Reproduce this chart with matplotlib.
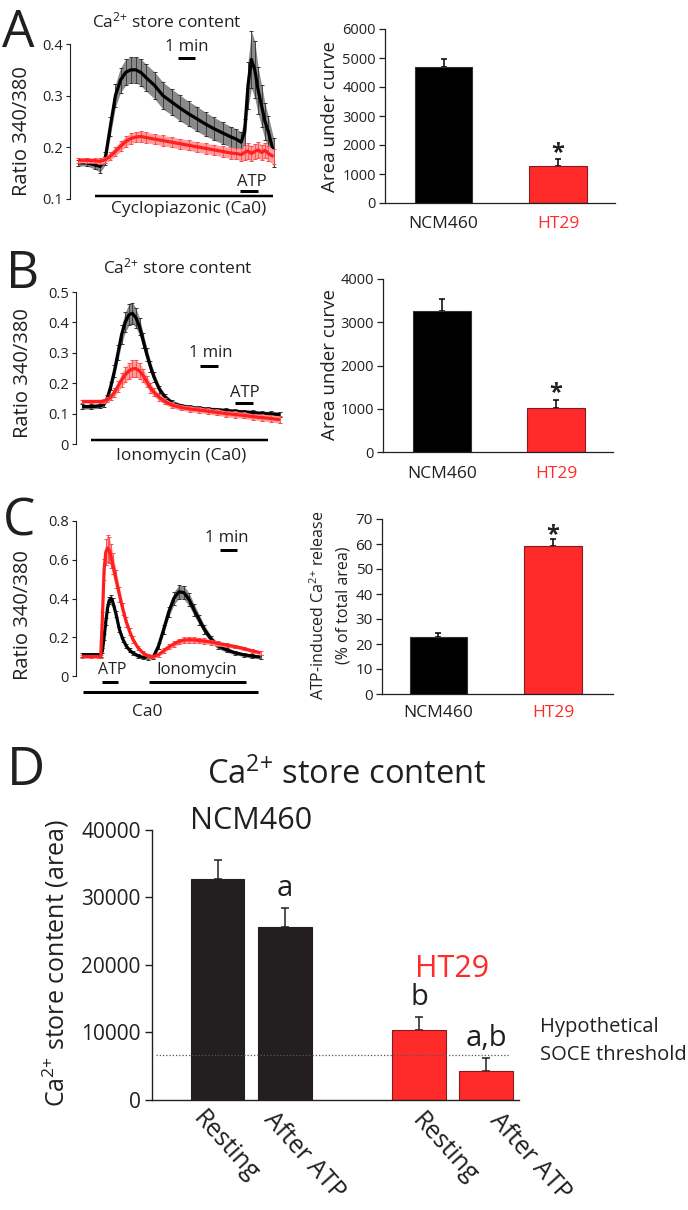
import numpy as np
import matplotlib
matplotlib.use("Agg")
import matplotlib.pyplot as plt
from matplotlib.lines import Line2D

plt.rcParams['font.family'] = ['Open Sans', 'DejaVu Sans']
plt.rcParams['mathtext.fontset'] = 'custom'
plt.rcParams['mathtext.rm'] = 'Open Sans'
plt.rcParams['mathtext.it'] = 'Open Sans:italic'
plt.rcParams['mathtext.bf'] = 'Open Sans:bold'

# ---------------- data ----------------
cells = ['NCM460', 'HT29']

# Panel A: cyclopiazonic acid traces (time in min)
A_time = [0, 0.5, 1.0, 1.3, 1.6, 1.9, 2.2, 2.5, 2.8, 3.1, 3.4, 3.7, 4.0, 4.5, 5.0, 5.5, 6.0,
          6.5, 7.0, 7.5, 8.0, 8.5, 9.0, 9.3, 9.6, 9.8, 10.0, 10.2, 10.4, 10.6, 10.8, 11.0, 11.2, 11.5]
A_ncm = [0.170, 0.170, 0.166, 0.163, 0.178, 0.240, 0.300, 0.330, 0.345, 0.350, 0.350, 0.345,
         0.335, 0.320, 0.300, 0.288, 0.276, 0.265, 0.255, 0.245, 0.236, 0.228, 0.220, 0.216,
         0.210, 0.230, 0.320, 0.370, 0.350, 0.310, 0.280, 0.250, 0.230, 0.190]
A_ncm_err = [0.006, 0.006, 0.008, 0.012, 0.012, 0.018, 0.022, 0.024, 0.025, 0.025, 0.025, 0.026,
             0.026, 0.026, 0.026, 0.025, 0.025, 0.024, 0.024, 0.023, 0.022, 0.021, 0.020, 0.020,
             0.020, 0.025, 0.045, 0.055, 0.055, 0.045, 0.040, 0.035, 0.030, 0.028]
A_ht = [0.175, 0.175, 0.174, 0.173, 0.176, 0.183, 0.192, 0.202, 0.211, 0.217, 0.220, 0.221,
        0.219, 0.216, 0.213, 0.210, 0.207, 0.204, 0.201, 0.198, 0.195, 0.192, 0.189, 0.188,
        0.186, 0.190, 0.193, 0.188, 0.192, 0.195, 0.190, 0.194, 0.188, 0.182]
A_ht_err = [0.005, 0.005, 0.005, 0.006, 0.006, 0.008, 0.009, 0.010, 0.010, 0.010, 0.010, 0.010,
            0.010, 0.010, 0.010, 0.010, 0.010, 0.010, 0.010, 0.010, 0.010, 0.010, 0.011, 0.011,
            0.012, 0.014, 0.015, 0.015, 0.015, 0.015, 0.015, 0.015, 0.015, 0.014]
A_auc = [4700, 1270]
A_auc_err = [270, 260]

# Panel B: ionomycin traces
B_time = [0, 0.5, 1.0, 1.2, 1.4, 1.6, 1.8, 2.0, 2.2, 2.4, 2.6, 2.8, 3.0, 3.2, 3.4, 3.6, 3.8,
          4.0, 4.3, 4.6, 5.0, 5.5, 6.0, 6.5, 7.0, 7.5, 8.0, 8.5, 9.0, 9.5, 10.0, 10.5, 11.0]
B_ncm = [0.123, 0.123, 0.125, 0.130, 0.150, 0.190, 0.240, 0.300, 0.360, 0.400, 0.425, 0.430,
         0.415, 0.385, 0.340, 0.295, 0.255, 0.220, 0.180, 0.155, 0.135, 0.125, 0.120, 0.117,
         0.114, 0.112, 0.110, 0.107, 0.105, 0.103, 0.100, 0.099, 0.097]
B_ncm_err = [0.008, 0.008, 0.008, 0.009, 0.010, 0.014, 0.020, 0.025, 0.030, 0.033, 0.035, 0.035,
             0.032, 0.028, 0.025, 0.022, 0.019, 0.016, 0.012, 0.010, 0.009, 0.008, 0.008, 0.008,
             0.008, 0.008, 0.008, 0.008, 0.008, 0.008, 0.008, 0.008, 0.008]
B_ht = [0.140, 0.140, 0.140, 0.141, 0.145, 0.155, 0.170, 0.190, 0.210, 0.228, 0.240, 0.247,
        0.248, 0.240, 0.225, 0.205, 0.185, 0.170, 0.153, 0.140, 0.128, 0.120, 0.115, 0.112,
        0.108, 0.104, 0.100, 0.097, 0.094, 0.090, 0.087, 0.084, 0.080]
B_ht_err = [0.006, 0.006, 0.006, 0.006, 0.008, 0.010, 0.014, 0.018, 0.022, 0.025, 0.027, 0.028,
            0.028, 0.026, 0.022, 0.019, 0.016, 0.013, 0.011, 0.010, 0.009, 0.009, 0.009, 0.009,
            0.009, 0.010, 0.010, 0.010, 0.010, 0.010, 0.011, 0.011, 0.012]
B_auc = [3270, 1015]
B_auc_err = [270, 190]

# Panel C: ATP then ionomycin traces
C_time = [0, 0.5, 1.0, 1.1, 1.2, 1.3, 1.4, 1.5, 1.6, 1.7, 1.8, 2.0, 2.2, 2.4, 2.6, 2.8, 3.0,
          3.3, 3.6, 3.9, 4.2, 4.5, 4.8, 5.1, 5.4, 5.7, 6.0, 6.3, 6.6, 6.9, 7.2, 7.6, 8.0, 8.5,
          9.0, 9.5, 10.0, 10.5]
C_ncm = [0.110, 0.110, 0.110, 0.110, 0.130, 0.200, 0.280, 0.350, 0.390, 0.400, 0.385, 0.320,
         0.240, 0.190, 0.155, 0.133, 0.118, 0.104, 0.097, 0.095, 0.100, 0.155, 0.240, 0.330,
         0.400, 0.435, 0.430, 0.395, 0.340, 0.290, 0.240, 0.190, 0.155, 0.135, 0.120, 0.110,
         0.103, 0.098]
C_ncm_err = [0.010, 0.010, 0.010, 0.010, 0.012, 0.016, 0.018, 0.020, 0.020, 0.020, 0.020, 0.018,
             0.015, 0.012, 0.010, 0.010, 0.010, 0.010, 0.010, 0.010, 0.010, 0.015, 0.022, 0.028,
             0.032, 0.035, 0.035, 0.033, 0.030, 0.026, 0.022, 0.018, 0.015, 0.012, 0.010, 0.010,
             0.010, 0.010]
C_ht = [0.100, 0.100, 0.100, 0.100, 0.300, 0.550, 0.640, 0.660, 0.650, 0.620, 0.580, 0.500,
        0.420, 0.345, 0.280, 0.230, 0.188, 0.145, 0.118, 0.103, 0.100, 0.110, 0.130, 0.150,
        0.165, 0.178, 0.185, 0.187, 0.186, 0.183, 0.180, 0.175, 0.168, 0.160, 0.152, 0.142,
        0.130, 0.120]
C_ht_err = [0.008, 0.008, 0.008, 0.008, 0.030, 0.055, 0.065, 0.070, 0.068, 0.060, 0.055, 0.045,
            0.038, 0.030, 0.025, 0.020, 0.016, 0.012, 0.010, 0.008, 0.008, 0.010, 0.012, 0.013,
            0.014, 0.015, 0.015, 0.015, 0.015, 0.015, 0.014, 0.013, 0.012, 0.011, 0.010, 0.010,
            0.010, 0.010]
C_pct = [22.8, 59.2]
C_pct_err = [1.6, 3.0]

# Panel D
D_labels = ['Resting', 'After ATP', 'Resting', 'After ATP']
D_pos = [0, 1, 3, 4]
D_vals = [32800, 25600, 10300, 4200]
D_err = [2800, 2800, 1900, 1900]
D_sig = ['', 'a', 'b', 'a,b']
D_threshold = 6600

# ---------------- styling ----------------
W, H = 688, 1210
TXT = '#231f20'
RED = '#ff2a2a'
RED_EDGE = '#8a1a1a'
BLK = '#000000'
CA = r'Ca$^{2{+}}$'

fig = plt.figure(figsize=(W / 100, H / 100), dpi=100)
fig.patch.set_facecolor('white')


def ax_px(x0, y0, x1, y1):
    a = fig.add_axes([x0 / W, 1 - y1 / H, (x1 - x0) / W, (y1 - y0) / H])
    a.patch.set_alpha(0)
    return a


def ftext(x, y, s, size, ha='left', va='baseline', color=TXT, **kw):
    fig.text(x / W, 1 - y / H, s, fontsize=size, ha=ha, va=va, color=color, **kw)


def fbar(x0, x1, y, lw_px):
    fig.add_artist(Line2D([x0 / W, x1 / W], [1 - y / H, 1 - y / H], color='k',
                          lw=lw_px * 0.72, solid_capstyle='butt'))


def draw_trace(ax, t, y, e, line_c, band_c, err_c, z):
    t = np.asarray(t, float)
    y = np.asarray(y, float)
    e = np.asarray(e, float)
    ax.fill_between(t, y - e, y + e, color=band_c, lw=0, zorder=z)
    ax.errorbar(t, y, yerr=e, fmt='none', ecolor=err_c, elinewidth=0.6,
                capsize=1.2, capthick=0.7, zorder=z + 0.1)
    ax.plot(t, y, color=line_c, lw=2.3, zorder=z + 0.2, solid_capstyle='butt')


def style_trace(ax, xlim, ylim, ticks, labels):
    ax.set_xlim(*xlim)
    ax.set_ylim(*ylim)
    for s in ('top', 'right', 'bottom'):
        ax.spines[s].set_visible(False)
    ax.spines['left'].set_bounds(ticks[0], ticks[-1])
    ax.spines['left'].set_linewidth(0.8)
    ax.spines['left'].set_color(TXT)
    ax.set_xticks([])
    ax.set_yticks(ticks)
    ax.set_yticklabels(labels)
    ax.tick_params(axis='y', length=3, width=0.8, pad=2, labelsize=10.5,
                   colors=TXT)


def style_bar(ax, xlim, ylim, ticks, fs, tl=4, pad=2.5, lw=0.9):
    ax.set_xlim(*xlim)
    ax.set_ylim(*ylim)
    for s in ('top', 'right'):
        ax.spines[s].set_visible(False)
    for s in ('left', 'bottom'):
        ax.spines[s].set_linewidth(lw)
        ax.spines[s].set_color(TXT)
    ax.set_xticks([])
    ax.set_yticks(ticks)
    ax.set_yticklabels([str(int(v)) for v in ticks])
    ax.tick_params(axis='y', length=tl, width=lw, pad=pad, labelsize=fs, colors=TXT)


def small_bars(ax, vals, errs, width):
    pos = np.arange(len(vals))
    ax.bar(pos, vals, width, color=[BLK, RED], edgecolor=['#333333', RED_EDGE],
           linewidth=0.8, zorder=2)
    ax.errorbar(pos, vals, yerr=[np.zeros(len(vals)), errs], fmt='none', ecolor='k',
                elinewidth=1.1, capsize=2, capthick=1.1, zorder=1)
    return pos


BLACK_STYLE = dict(line_c='#000000', band_c='#8a8a8a', err_c='#333333')
RED_STYLE = dict(line_c='#ff1f1f', band_c='#ff9c9c', err_c='#ff4a4a')

# ================= Panel A =================
ftext(2, 47, 'A', 37)
axA = ax_px(70, 28.5, 285, 199)
draw_trace(axA, A_time, A_ncm, A_ncm_err, z=2, **BLACK_STYLE)
draw_trace(axA, A_time, A_ht, A_ht_err, z=3, **RED_STYLE)
style_trace(axA, (-8 / 17, (285 - 78) / 17), (0.1, 0.43), [0.1, 0.2, 0.3, 0.4],
            ['0.1', '0.2', '0.3', '0.4'])
ftext(92, 27, CA + ' store content', 12.5)
ftext(22, 131, 'Ratio 340/380', 14.5, ha='center', va='center', rotation=90)
ftext(186.5, 51, '1 min', 12, ha='center')
fbar(178, 195, 58, 3)
ftext(252, 186, 'ATP', 12, ha='center')
fbar(240, 258, 190.5, 3)
fbar(95, 273, 195.5, 2.5)
ftext(189, 213, 'Cyclopiazonic (Ca0)', 12.5, ha='center')

axAb = ax_px(385, 29, 615, 203)
posA = small_bars(axAb, A_auc, A_auc_err, 0.5)
style_bar(axAb, (-0.511, 1.498), (0, 6000), [0, 1000, 2000, 3000, 4000, 5000, 6000], 10.5)
ftext(330, 116, 'Area under curve', 13.5, ha='center', va='center', rotation=90)
ftext(443.5, 228, cells[0], 12.5, ha='center')
ftext(558, 228, cells[1], 12.5, ha='center', color=RED)
ftext(558, 159, '*', 17, ha='center', weight='bold')

# ================= Panel B =================
ftext(6, 288, 'B', 37)
axB = ax_px(76, 292, 285, 444)
draw_trace(axB, B_time, B_ncm, B_ncm_err, z=2, **BLACK_STYLE)
draw_trace(axB, B_time, B_ht, B_ht_err, z=3, **RED_STYLE)
style_trace(axB, (-6 / 18, (285 - 82) / 18), (0, 0.5), [0, 0.1, 0.2, 0.3, 0.4, 0.5],
            ['0', '0.1', '0.2', '0.3', '0.4', '0.5'])
ftext(103, 273, CA + ' store content', 12.5)
ftext(23, 373, 'Ratio 340/380', 14.5, ha='center', va='center', rotation=90)
ftext(210.5, 357, '1 min', 12, ha='center')
fbar(200, 218, 366, 3)
ftext(245, 397, 'ATP', 12, ha='center')
fbar(235, 253, 403.5, 3)
fbar(91, 268, 439.5, 2.5)
ftext(181.5, 460, 'Ionomycin (Ca0)', 12.5, ha='center')

axBb = ax_px(383, 279, 613, 452)
small_bars(axBb, B_auc, B_auc_err, 0.51)
style_bar(axBb, (-0.518, 1.5), (0, 4000), [0, 1000, 2000, 3000, 4000], 10.5)
ftext(330, 365, 'Area under curve', 13.5, ha='center', va='center', rotation=90)
ftext(442, 478, cells[0], 12.5, ha='center')
ftext(556, 478, cells[1], 12.5, ha='center', color=RED)
ftext(555.5, 399, '*', 17, ha='center', weight='bold')

# ================= Panel C =================
ftext(3, 535, 'C', 37)
axC = ax_px(76, 521, 270, 676)
draw_trace(axC, C_time, C_ncm, C_ncm_err, z=2, **BLACK_STYLE)
draw_trace(axC, C_time, C_ht, C_ht_err, z=3, **RED_STYLE)
style_trace(axC, (-6 / 17, (270 - 82) / 17), (0, 0.8), [0, 0.2, 0.4, 0.6, 0.8],
            ['0', '0.2', '0.4', '0.6', '0.8'])
ftext(23, 615, 'Ratio 340/380', 14.5, ha='center', va='center', rotation=90)
ftext(227, 542, '1 min', 12, ha='center')
fbar(220, 237, 550, 3)
ftext(112, 674, 'ATP', 11.5, ha='center')
fbar(102, 118, 681.5, 3)
ftext(197, 674, 'Ionomycin', 12, ha='center')
fbar(149, 246, 681.5, 3)
fbar(82.6, 258, 691.8, 3)
ftext(147, 715.5, 'Ca0', 12.5, ha='center')

axCb = ax_px(382, 519, 613, 694)
small_bars(axCb, C_pct, C_pct_err, 0.5)
style_bar(axCb, (-0.493, 1.524), (0, 70), [0, 10, 20, 30, 40, 50, 60, 70], 11)
ftext(319, 605, 'ATP-induced ' + CA + ' release', 11.5, ha='center', va='center', rotation=90)
ftext(343, 605, '(% of total area)', 11.5, ha='center', va='center', rotation=90)
ftext(438.5, 717, cells[0], 12.5, ha='center')
ftext(553, 717, cells[1], 12.5, ha='center', color=RED)
ftext(553, 541, '*', 17, ha='center', weight='bold')

# ================= Panel D =================
ftext(7, 785, 'D', 38)
ftext(207, 784, CA + ' store content', 23.5)
axD = ax_px(151.7, 830, 518.5, 1099.5)
axD.bar(D_pos, D_vals, 0.80, color=[TXT, TXT, RED, RED],
        edgecolor=[TXT, TXT, RED_EDGE, RED_EDGE], linewidth=0.8, zorder=2)
axD.errorbar(D_pos, D_vals, yerr=[np.zeros(len(D_vals)), D_err], fmt='none', ecolor=TXT,
             elinewidth=1.1, capsize=2.6, capthick=1.1, zorder=1)
axD.plot([-0.92, 4.35], [D_threshold, D_threshold], color='#555555', lw=0.9,
         linestyle=(0, (1, 1.6)), zorder=3)
style_bar(axD, (-0.98, 4.48), (0, 40000), [0, 10000, 20000, 30000, 40000], 15,
          tl=5, pad=3, lw=1.0)
for p, v, e, s in zip(D_pos, D_vals, D_err, D_sig):
    if s:
        axD.annotate(s, (p, v + e), xytext=(0, 9), textcoords='offset points',
                     ha='center', va='baseline', fontsize=21, color=TXT)
ftext(56, 963, CA + ' store content (area)', 18, ha='center', va='center', rotation=90)
ftext(251.5, 829, cells[0], 22, ha='center')
ftext(452, 977, cells[1], 22, ha='center', color=RED)
ftext(540.4, 1031.7, 'Hypothetical', 14.5)
ftext(540.4, 1059.5, 'SOCE threshold', 14.5)
label_anchor = [(206, 1106), (277, 1107), (425, 1108), (503, 1108)]
for (x, y), lab in zip(label_anchor, D_labels):
    ftext(x, y, lab, 18, ha='left', va='top', rotation=-48, rotation_mode='anchor')

fig.savefig('out.png', dpi=100, facecolor='white')
